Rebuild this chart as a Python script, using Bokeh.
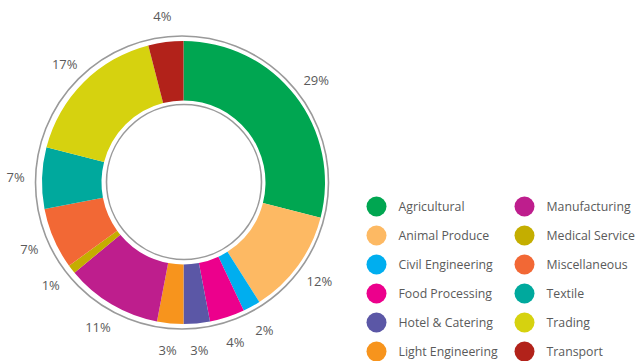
import numpy as np
from bokeh.plotting import figure
from bokeh.models import Range1d, ColumnDataSource
from bokeh.core.properties import value
from bokeh.embed import file_html
from bokeh.resources import INLINE

categories = ["Agricultural", "Animal Produce", "Civil Engineering", "Food Processing",
              "Hotel & Catering", "Light Engineering", "Manufacturing", "Medical Service",
              "Miscellaneous", "Textile", "Trading", "Transport"]
shares = [29, 12, 2, 4, 3, 3, 11, 1, 7, 7, 17, 4]
colors = ["#00A651", "#FDB963", "#00AEEF", "#EC008C", "#5B57A6", "#F7941D",
          "#BE1E8D", "#C4AE00", "#F26835", "#00A99D", "#D6D20F", "#B2221A"]
labels = [f"{s}%" for s in shares]

W, H = 638, 361
p = figure(width=W, height=H, output_backend="svg", toolbar_location=None,
           x_range=Range1d(0, W), y_range=Range1d(0, H),
           x_axis_location=None, y_axis_location=None, min_border=0)
p.grid.visible = False
p.outline_line_color = None
p.background_fill_color = None
p.border_fill_color = None

cx, cy = 183.0, 179.0
r_in, r_out = 82.0, 141.5

vals = np.array(shares, dtype=float)
frac = vals / vals.sum()
cum = np.concatenate([[0], np.cumsum(frac)])
start = np.pi / 2 - 2 * np.pi * cum[:-1]
end = np.pi / 2 - 2 * np.pi * cum[1:]
mid = (start + end) / 2

src = ColumnDataSource(dict(start=start, end=end, color=colors))
p.annular_wedge(x=cx, y=cy, inner_radius=r_in, outer_radius=r_out,
                start_angle="start", end_angle="end", direction="clock",
                color="color", line_color=None, source=src)

# thin grey guide circles
p.circle(x=[cx - 1.5], y=[cy], radius=146.5, fill_color=None,
         line_color="#9a9a9a", line_width=1.6)
p.circle(x=[cx + 0.5], y=[cy + 0.5], radius=77.5, fill_color=None,
         line_color="#9a9a9a", line_width=1.6)

lr = 168.0
lsrc = ColumnDataSource(dict(x=cx + lr * np.cos(mid), y=cy + lr * np.sin(mid), t=labels))
p.text(x="x", y="y", text="t", source=lsrc, text_align="center",
       text_baseline="middle", text_font=value("Open Sans"),
       text_font_size="13px", text_color="#5a5a5a")

# legend drawn as glyphs
idx = np.arange(len(categories))
col = idx // 6
row = idx % 6
mx = 376 + 148 * col
my = 155 - 29 * row
gsrc = ColumnDataSource(dict(x=mx, y=my, tx=mx + 22, c=colors, t=categories))
p.scatter(x="x", y="y", size=20, marker="circle", color="c", line_color=None, source=gsrc)
p.text(x="tx", y="y", text="t", source=gsrc, text_align="left", text_baseline="middle",
       text_font=value("Open Sans"), text_font_size="12.3px", text_color="#5a5a5a")

open("out.html", "w").write(file_html(p, INLINE))
